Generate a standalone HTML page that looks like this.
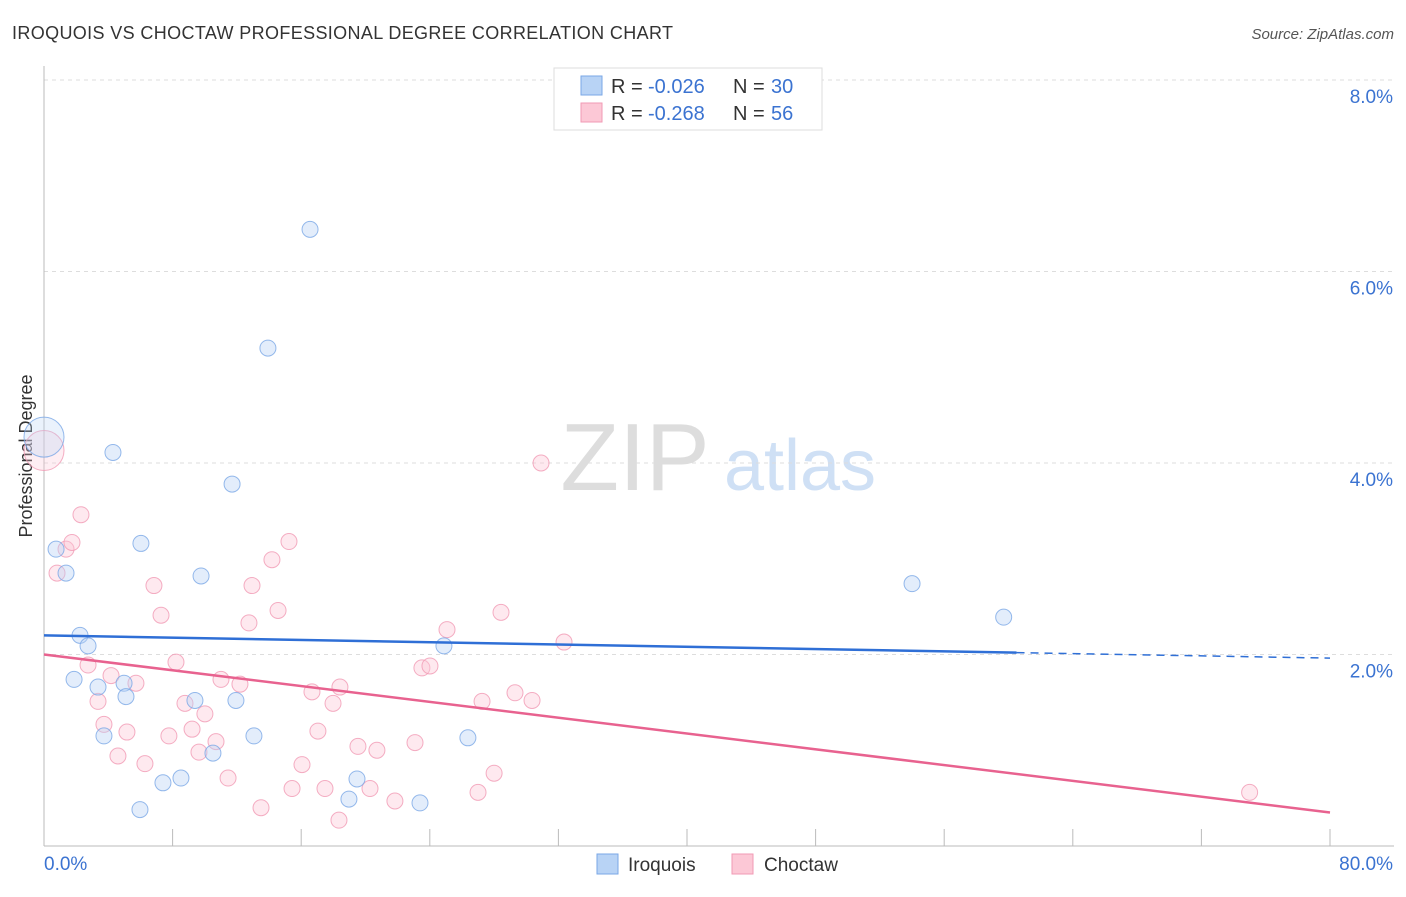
<!DOCTYPE html>
<html><head><meta charset="utf-8"><style>
body{margin:0;background:#fff;font-family:"Liberation Sans",sans-serif;}
svg text{font-family:"Liberation Sans",sans-serif;}
</style></head><body>
<svg id="c" width="1406" height="892" xmlns="http://www.w3.org/2000/svg">
<text x="12" y="39" font-size="18" fill="#333" textLength="661">IROQUOIS VS CHOCTAW PROFESSIONAL DEGREE CORRELATION CHART</text>
<text x="1394" y="39" font-size="15" fill="#555" font-style="italic" text-anchor="end">Source: ZipAtlas.com</text>
<text x="32" y="456" font-size="18" fill="#333" transform="rotate(-90 32 456)" text-anchor="middle">Professional Degree</text>
<g><text x="635" y="490" font-size="96" fill="#ddd" font-family="Liberation Serif" text-anchor="middle">ZIP</text><text x="800" y="490" font-size="72" fill="#cfe0f5" text-anchor="middle">atlas</text></g>
<g id="grid"></g><g id="axes"></g><g id="marks"></g>
<g>
<rect x="554" y="68" width="268" height="62" fill="#fff" stroke="#ddd"/>
<rect x="581" y="76" width="21" height="19" fill="#b8d3f5" stroke="#7aa7e6"/>
<rect x="581" y="103" width="21" height="19" fill="#fcc8d6" stroke="#f19ab4"/>
<text x="611" y="93" font-size="20" fill="#333">R =</text><text x="648" y="93" font-size="20" fill="#3b73d1">-0.026</text>
<text x="733" y="93" font-size="20" fill="#333">N =</text><text x="771" y="93" font-size="20" fill="#3b73d1">30</text>
<text x="611" y="120" font-size="20" fill="#333">R =</text><text x="648" y="120" font-size="20" fill="#3b73d1">-0.268</text>
<text x="733" y="120" font-size="20" fill="#333">N =</text><text x="771" y="120" font-size="20" fill="#3b73d1">56</text>
</g>
<g>
<rect x="597" y="854" width="21" height="20" fill="#b8d3f5" stroke="#7aa7e6"/>
<text x="628" y="871" font-size="19" fill="#333">Iroquois</text>
<rect x="732" y="854" width="21" height="20" fill="#fcc8d6" stroke="#f19ab4"/>
<text x="764" y="871" font-size="19" fill="#333">Choctaw</text>
</g>
</svg>
<script>
const yTicks=[2,4,6,8];
const xTickLabels=["0.0%","80.0%"];
const iroquoisX=[0,0.75,1.37,4.29,6.03,9.77,11.7,13.93,16.55,2.24,2.74,1.87,3.36,4.98,5.1,3.73,9.39,11.94,10.51,13.06,7.4,8.52,5.97,19.47,18.97,23.39,24.88,26.37,54.0,59.7];
const iroquoisY=[4.27,3.1,2.85,4.11,3.16,2.82,3.78,5.2,6.44,2.2,2.09,1.74,1.66,1.7,1.56,1.15,1.52,1.52,0.97,1.15,0.66,0.71,0.38,0.7,0.49,0.45,2.09,1.13,2.74,2.39];
const choctawX=[0,0.81,1.37,1.74,2.3,2.74,3.36,3.73,4.17,4.6,5.16,5.72,6.28,6.84,7.28,7.77,8.21,8.77,9.21,9.64,10.01,10.7,11.01,11.45,12.19,12.94,12.75,13.5,14.18,14.56,15.24,15.43,16.05,16.67,17.04,17.48,17.98,18.41,18.35,19.53,20.28,20.71,21.83,23.08,23.51,24.01,25.07,27.0,27.25,28.0,28.43,29.3,30.36,30.92,32.35,75.0];
const choctawY=[4.13,2.85,3.1,3.17,3.46,1.89,1.51,1.27,1.78,0.94,1.19,1.7,0.86,2.72,2.41,1.15,1.92,1.49,1.22,0.98,1.38,1.09,1.74,0.71,1.69,2.72,2.33,0.4,2.99,2.46,3.18,0.6,0.85,1.61,1.2,0.6,1.49,1.66,0.27,1.04,0.6,1.0,0.47,1.08,1.86,1.88,2.26,0.56,1.51,0.76,2.44,1.6,1.52,4.0,2.13,0.56];
const trendI=[2.2,2.02];const trendC=[2.0,0.35];
const NS="http://www.w3.org/2000/svg";
const xs=v=>44+v*16.075, ys=v=>846-v*95.75;
function mk(t,a,p){const e=document.createElementNS(NS,t);for(const k in a)e.setAttribute(k,a[k]);p.appendChild(e);return e;}
const grid=document.getElementById('grid'),axes=document.getElementById('axes'),marks=document.getElementById('marks');
yTicks.forEach(t=>{const l=mk('line',{x1:44,x2:1394,y1:ys(t),y2:ys(t),stroke:'#ddd','stroke-dasharray':'4,4'},grid);


const tx=mk('text',{x:1393,y:ys(t)+23,'font-size':19,fill:'#3b73d1','text-anchor':'end'},axes);tx.textContent=t.toFixed(1)+'%';

});
const ya=mk('line',{x1:44,x2:44,y1:66,y2:846,stroke:'#bbb'},axes);


const xa=mk('line',{x1:44,x2:1394,y1:846,y2:846,stroke:'#bbb'},axes);


for(let i=0;i<=10;i++){const t=mk('line',{x1:xs(i*8),x2:xs(i*8),y1:829,y2:846,stroke:'#bbb'},axes);

}
const xl0=mk('text',{x:44,y:870,'font-size':19,fill:'#3b73d1'},axes);xl0.textContent=xTickLabels[0];


const xl1=mk('text',{x:1393,y:870,'font-size':19,fill:'#3b73d1','text-anchor':'end'},axes);xl1.textContent=xTickLabels[1];


function pts(X,Y,f,s,name){X.forEach((x,i)=>{const c=mk('circle',{cx:xs(x),cy:ys(Y[i]),r:i==0?20:8,fill:f,'fill-opacity':i==0?0.3:0.4,stroke:s,'stroke-opacity':0.8},marks);

});}
pts(choctawX,choctawY,'#fcc8d6','#f19ab4','choctaw-point');
pts(iroquoisX,iroquoisY,'#b8d3f5','#7aa7e6','iroquois-point');
const xe=80, xm=60.5;
const yI=x=>trendI[0]+(trendI[1]-trendI[0])*x/xm;
const l1=mk('line',{x1:xs(0),y1:ys(trendI[0]),x2:xs(xm),y2:ys(yI(xm)),stroke:'#2f6fd6','stroke-width':2.5},marks);


const l2=mk('line',{x1:xs(xm),y1:ys(yI(xm)),x2:xs(xe),y2:ys(yI(xe)),stroke:'#2f6fd6','stroke-width':1.5,'stroke-dasharray':'8,6'},marks);


const l3=mk('line',{x1:xs(0),y1:ys(trendC[0]),x2:xs(xe),y2:ys(trendC[1]),stroke:'#e8628f','stroke-width':2.5},marks);


</script>
</body></html>
